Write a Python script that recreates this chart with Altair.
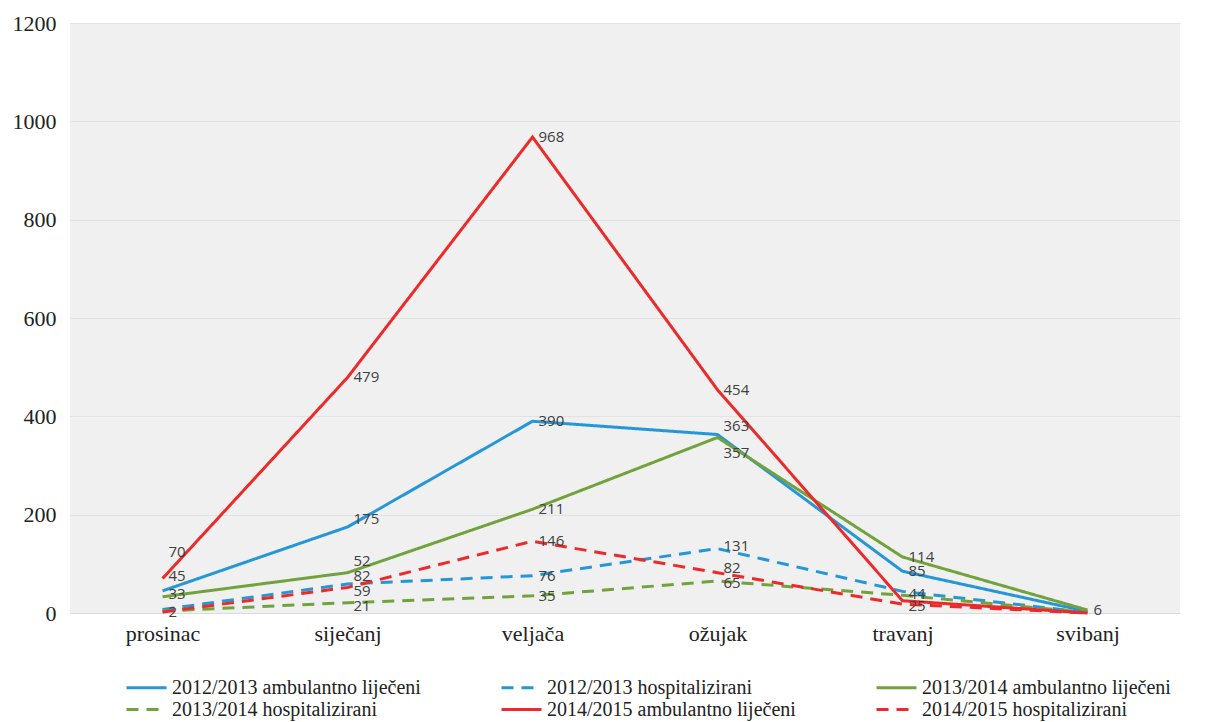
import altair as alt
import pandas as pd

months = ["prosinac", "siječanj", "veljača", "ožujak", "travanj", "svibanj"]
series_names = [
    "2012/2013 ambulantno liječeni",
    "2012/2013 hospitalizirani",
    "2013/2014 ambulantno liječeni",
    "2013/2014 hospitalizirani",
    "2014/2015 ambulantno liječeni",
    "2014/2015 hospitalizirani",
]
blue_amb = [45, 175, 390, 363, 85, 3]
blue_hosp = [7, 59, 76, 131, 44, 1]
green_amb = [33, 82, 211, 357, 114, 6]
green_hosp = [4, 21, 35, 65, 36, 1]
red_amb = [70, 479, 968, 454, 25, 0]
red_hosp = [2, 52, 146, 82, 18, 0]

# which values carry a visible data label in the original
blue_amb_show = [1, 1, 1, 1, 1, 0]
blue_hosp_show = [0, 1, 1, 1, 1, 0]
green_amb_show = [1, 1, 1, 1, 1, 1]
green_hosp_show = [0, 1, 1, 1, 0, 0]
red_amb_show = [1, 1, 1, 1, 1, 0]
red_hosp_show = [1, 1, 1, 1, 0, 0]

colors = ["#2596D6", "#2596D6", "#72A23C", "#72A23C", "#EC2A2A", "#EC2A2A"]
dashes = [[1, 0], [12, 8], [1, 0], [12, 8], [1, 0], [12, 8]]

# vertical nudges (pixels, + = down) of a few data labels, as placed in the original
PLOT_H = 590
Y_MAX = 1200
label_nudge = {
    (4, 0): -27, (0, 0): -15, (2, 0): -3,
    (5, 1): -26, (2, 1): 3, (1, 1): 7, (3, 1): 3, (0, 1): -8,
    (0, 3): -9, (2, 3): 16, (1, 3): -3, (5, 3): -5, (3, 3): 2,
    (4, 4): 5, (1, 4): 3,
}

all_vals = [blue_amb, blue_hosp, green_amb, green_hosp, red_amb, red_hosp]
all_show = [blue_amb_show, blue_hosp_show, green_amb_show, green_hosp_show, red_amb_show, red_hosp_show]

rows = []
for si, (name, vals, shows) in enumerate(zip(series_names, all_vals, all_show)):
    for mi, (m, v, s) in enumerate(zip(months, vals, shows)):
        rows.append({"serija": name, "mjesec": m, "vrijednost": v,
                     "oznaka": str(v) if s else "",
                     "pomak": label_nudge.get((si, mi), 0)})
df = pd.DataFrame(rows)

x_enc = alt.X("mjesec:N", sort=months, title=None,
              scale=alt.Scale(paddingOuter=0.5),
              axis=alt.Axis(labelAngle=0, labelFont="Liberation Serif", labelFontSize=22,
                            labelColor="#222222", ticks=False, domainColor="#D9D9D9",
                            labelPadding=10, grid=False))
y_enc = alt.Y("vrijednost:Q", title=None,
              scale=alt.Scale(domain=[0, Y_MAX], nice=False),
              axis=alt.Axis(values=[0, 200, 400, 600, 800, 1000, 1200], format="d",
                            labelFont="Liberation Serif", labelFontSize=22,
                            labelColor="#222222", ticks=False, domain=False,
                            gridColor="#E2E2E2", labelPadding=14))

lines = alt.Chart(df).mark_line(strokeWidth=3).encode(
    x=x_enc,
    y=y_enc,
    color=alt.Color("serija:N", sort=series_names,
                    scale=alt.Scale(domain=series_names, range=colors),
                    legend=alt.Legend(title=None, orient="none", legendX=65, legendY=653,
                                      columns=3, direction="horizontal",
                                      symbolType="M-2,0L2,0", symbolSize=400,
                                      symbolStrokeWidth=3, labelFont="Liberation Serif",
                                      labelFontSize=20, labelColor="#222222",
                                      labelOffset=14, columnPadding=74, rowPadding=0,
                                      labelLimit=400)),
    strokeDash=alt.StrokeDash("serija:N", sort=series_names,
                              scale=alt.Scale(domain=series_names, range=dashes)),
)

labels = alt.Chart(df).transform_calculate(
    y_lbl=f"datum.vrijednost - datum.pomak * {Y_MAX / PLOT_H}"
).mark_text(align="left", baseline="middle", dx=6, dy=0,
            font="Open Sans", fontSize=15, color="#404040").encode(
    x=alt.X("mjesec:N", sort=months),
    y=alt.Y("y_lbl:Q"),
    text="oznaka:N",
)

chart = (lines + labels).properties(
    width=1110, height=PLOT_H,
    autosize=alt.AutoSizeParams(type="none"),
    padding={"left": 62, "top": 15, "right": 30, "bottom": 108},
).configure_view(fill="#F0F0F0", stroke=None)

chart.save("out.html", embed_options={"renderer": "svg", "actions": False})
